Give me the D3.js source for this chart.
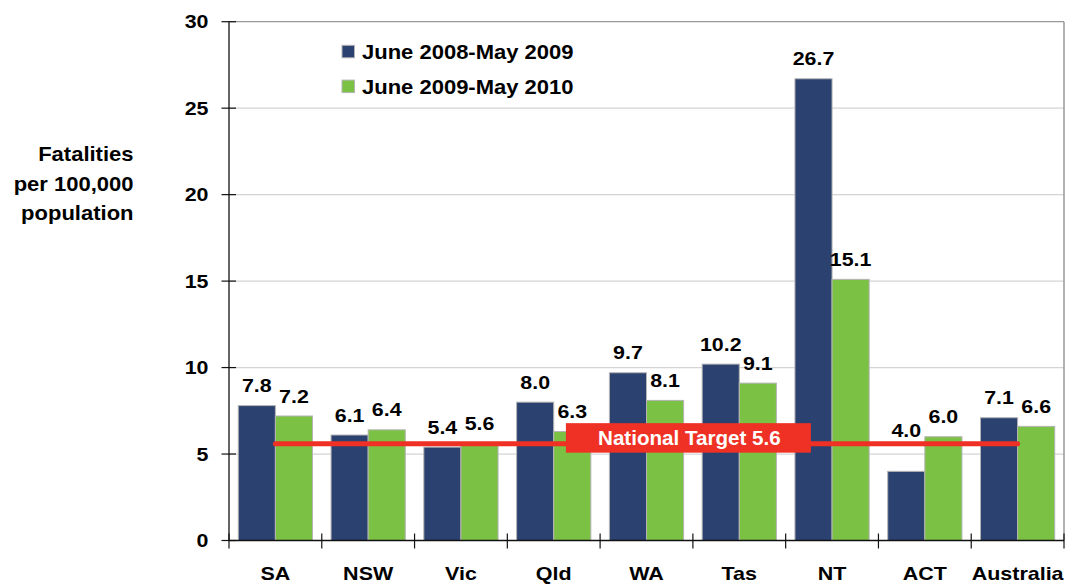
<!DOCTYPE html>
<html>
<head>
<meta charset="utf-8">
<script src="https://cdn.jsdelivr.net/npm/d3@7"></script>
<style>
  html, body { margin: 0; padding: 0; background: #fff; }
  svg text { font-family: "Liberation Sans", Arial, Helvetica, sans-serif; font-weight: bold; }
</style>
</head>
<body>
<svg id="chart" width="1070" height="585"></svg>
<script>
// ---- data ----
const categories = ["SA", "NSW", "Vic", "Qld", "WA", "Tas", "NT", "ACT", "Australia"];
const seriesNames = ["June 2008-May 2009", "June 2009-May 2010"];
const series2008 = [7.8, 6.1, 5.4, 8.0, 9.7, 10.2, 26.7, 4.0, 7.1];
const series2009 = [7.2, 6.4, 5.6, 6.3, 8.1, 9.1, 15.1, 6.0, 6.6];
const yTicks = [0, 5, 10, 15, 20, 25, 30];
const targetValue = 5.6;
const targetLabel = "National Target 5.6";
const yTitleLines = ["Fatalities", "per 100,000", "population"];

// ---- styling ----
const colors = ["#2b4170", "#7bc143"];
const redColor = "#ee3124";
const svg = d3.select("#chart");

const plotL = 229, plotR = 1064, plotT = 21.7, plotB = 540.5;

const x0 = d3.scaleBand().domain(categories).range([plotL, plotR]).paddingInner(0).paddingOuter(0);
const x1 = d3.scaleBand().domain(seriesNames).range([0, x0.bandwidth()]).paddingInner(0).paddingOuter(0.25);
const y = d3.scaleLinear().domain([0, 30]).range([plotB, plotT]);

const rows = categories.map((c, i) => ({ cat: c, vals: [series2008[i], series2009[i]] }));

// helper: stretched text (reference fonts are horizontally wide)
function stretchedText(g, x, yy, txt, size, sx, anchor) {
  return g.append("text")
    .attr("transform", `translate(${x},${yy}) scale(${sx},1)`)
    .attr("text-anchor", anchor || "middle")
    .attr("font-size", size)
    .text(txt);
}

// gridlines
svg.append("g").selectAll("line")
  .data(yTicks.filter(t => t > 0 && t < 30))
  .join("line")
  .attr("x1", plotL).attr("x2", plotR)
  .attr("y1", d => y(d)).attr("y2", d => y(d))
  .attr("stroke", "#d4d4d4").attr("stroke-width", 1.3);

// top & right border
svg.append("line").attr("x1", plotL).attr("x2", plotR).attr("y1", y(30)).attr("y2", y(30))
  .attr("stroke", "#999").attr("stroke-width", 1.3);
svg.append("line").attr("x1", plotR).attr("x2", plotR).attr("y1", y(30)).attr("y2", y(0))
  .attr("stroke", "#999").attr("stroke-width", 1.5);

// bars
const groups = svg.append("g").selectAll("g")
  .data(rows).join("g")
  .attr("transform", d => `translate(${x0(d.cat)},0)`);

groups.selectAll("rect")
  .data(d => d.vals.map((v, k) => ({ v, k, name: seriesNames[k] })))
  .join("rect")
  .attr("x", d => x1(d.name))
  .attr("width", x1.bandwidth())
  .attr("y", d => y(d.v))
  .attr("height", d => y(0) - y(d.v))
  .attr("fill", d => colors[d.k])
  .attr("stroke", "#b4b4b4")
  .attr("stroke-width", 1);

// axes
const yAxis = svg.append("g");
yAxis.append("line").attr("x1", plotL).attr("x2", plotL).attr("y1", y(30)).attr("y2", y(0))
  .attr("stroke", "#111").attr("stroke-width", 1.3);
yAxis.selectAll("line.tick").data(yTicks).join("line").attr("class", "tick")
  .attr("x1", plotL - 7.5).attr("x2", plotL + 7).attr("y1", d => y(d)).attr("y2", d => y(d))
  .attr("stroke", "#111").attr("stroke-width", 1.2);
yTicks.forEach(t => {
  stretchedText(yAxis, 208.5, y(t) + 6.6, String(t), 18.6, 1.15, "end");
});

const xAxis = svg.append("g");
xAxis.append("line").attr("x1", plotL).attr("x2", plotR).attr("y1", y(0)).attr("y2", y(0))
  .attr("stroke", "#111").attr("stroke-width", 1.3);
const bounds = categories.map(c => x0(c)).concat([plotR]);
xAxis.selectAll("line.tick").data(bounds).join("line").attr("class", "tick")
  .attr("x1", d => d).attr("x2", d => d).attr("y1", y(0) - 7).attr("y2", y(0) + 8)
  .attr("stroke", "#111").attr("stroke-width", 1.2);
categories.forEach(c => {
  stretchedText(xAxis, x0(c) + x0.bandwidth() / 2, 580, c, 18.6, 1.155, "middle");
});

// y title
yTitleLines.forEach((t, i) => {
  stretchedText(svg, 133.5, 161 + i * 29.5, t, 20, 1.1, "end");
});

// target line
const ty = y(targetValue);
svg.append("line")
  .attr("x1", x0(categories[0]) + x0.bandwidth() / 2)
  .attr("x2", x0(categories[categories.length - 1]) + x0.bandwidth() / 2)
  .attr("y1", ty).attr("y2", ty)
  .attr("stroke", redColor).attr("stroke-width", 5).attr("stroke-linecap", "round");

// target label box
const boxCx = x0("Tas") - 4.5, boxW = 245, boxH = 29.5;
svg.append("rect")
  .attr("x", boxCx - boxW / 2).attr("y", ty - 20.5)
  .attr("width", boxW).attr("height", boxH)
  .attr("fill", redColor);
stretchedText(svg, boxCx + 1, ty + 1.5, targetLabel, 20, 1.03, "middle").attr("fill", "#fff");

// value labels
const fmt = d3.format(".1f");
rows.forEach(r => {
  r.vals.forEach((v, k) => {
    const cx = x0(r.cat) + x1(seriesNames[k]) + x1.bandwidth() / 2;
    let cy = y(v) - 20;
    if (cy > ty - 13) cy = ty - 13;
    stretchedText(svg, cx, cy + 6.6, fmt(v), 18.6, 1.15, "middle");
  });
});

// legend
const legend = svg.append("g");
seriesNames.forEach((name, i) => {
  const base = 58.8 + i * 34.8;
  legend.append("rect")
    .attr("x", 342).attr("y", base - 13.5)
    .attr("width", 12.5).attr("height", 12.5)
    .attr("fill", colors[i]).attr("stroke", "#b4b4b4").attr("stroke-width", 1);
  stretchedText(legend, 362, base, name, 20, 1.1, "start");
});
</script>
</body>
</html>
